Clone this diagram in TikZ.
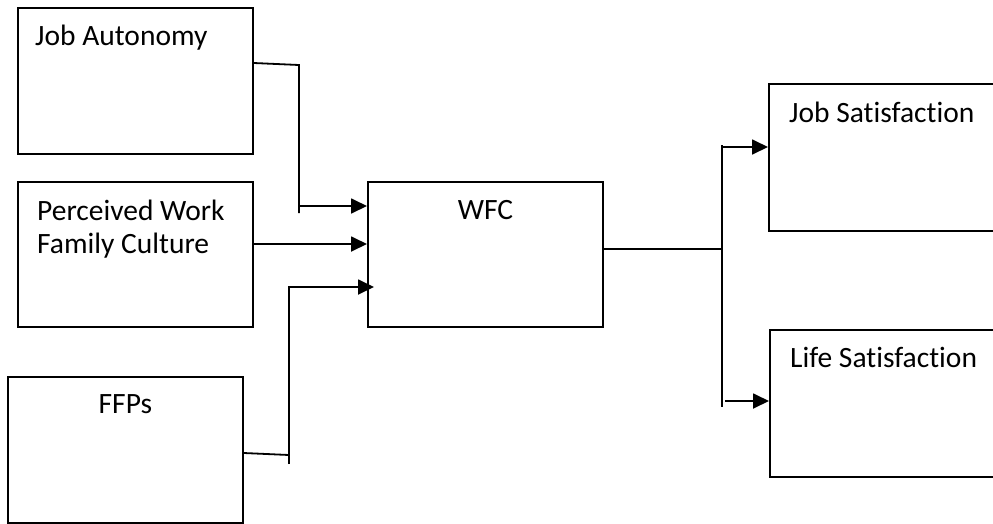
\documentclass[tikz,border=0pt]{standalone}
\usepackage{fontspec}
\setmainfont{Carlito}[RawFeature={-liga;-clig;-dlig;-calt}]
\usetikzlibrary{arrows.meta}

\begin{document}
\begin{tikzpicture}[
        x=1pt, y=-1pt,
        box/.style={draw, line width=1.8pt, rectangle, anchor=north west, inner sep=0pt,
                    minimum width=235pt, minimum height=146pt},
        lbl/.style={inner sep=0pt, font=\fontsize{29.5}{33}\selectfont, align=left},
        wire/.style={line width=1.8pt},
        arr/.style={line width=1.8pt, -{Triangle[length=16pt,width=15pt]}}
    ]
    \clip (0,0) rectangle (993,523);

    % Left boxes
    \node[box] (ja)  at (17,7)   {};
    \node[box, minimum height=145pt] (pw) at (17,181) {};
    \node[box] (ffp) at (7,376)  {};
    \node[lbl, anchor=base west] (jat) at ([shift={(18,38)}]ja.north west) {Job Autonomy};
    \node[lbl, anchor=base west] (pwt) at ([shift={(20,72)}]pw.north west) {Perceived Work\\Family Culture};
    \node[lbl, anchor=base] (ffpt) at ([shift={(0,37)}]ffp.north) {FFPs};

    % Middle box
    \node[box, minimum height=145pt] (wfc) at (367,181) {};
    \node[lbl, anchor=base] (wfct) at ([shift={(0,38)}]wfc.north) {WFC};

    % Right boxes
    \node[box, minimum width=260pt, minimum height=147pt] (js) at (768,83)  {};
    \node[box, minimum width=260pt, minimum height=147pt] (ls) at (769,329) {};
    \node[lbl, anchor=base west] (jst) at ([shift={(21,39)}]js.north west) {Job Satisfaction};
    \node[lbl, anchor=base west] (lst) at ([shift={(21,38)}]ls.north west) {Life Satisfaction};

    % Inputs
    \coordinate (a1) at ([shift={(0,25)}]wfc.north west);
    \coordinate (a2) at ([shift={(0,63)}]wfc.north west);
    \coordinate (a3) at ([shift={(7,106)}]wfc.north west);

    \draw[wire] ([shift={(0,56)}]ja.north east) -- (299,65) coordinate (b1) -- (299,213);
    \draw[arr] (b1 |- a1) -- (a1);
    \draw[arr] (pw.east |- a2) -- (a2);
    \draw[wire] ([shift={(0,77)}]ffp.north east) -- (289,455) coordinate (b3);
    \draw[arr] (289,464) -- (b3 |- a3) -- (a3);

    % Outputs
    \coordinate (c1) at ([shift={(0,64)}]js.north west);
    \coordinate (c2) at ([shift={(0,72)}]ls.north west);
    \draw[wire] ([shift={(0,68)}]wfc.north east) -- (722,249) coordinate (d0);
    \draw[wire] (722,145) -- (722,407);
    \draw[arr] (d0 |- c1) -- (c1);
    \draw[arr] ([xshift=3pt]d0 |- c2) -- (c2);

\end{tikzpicture}
\end{document}
